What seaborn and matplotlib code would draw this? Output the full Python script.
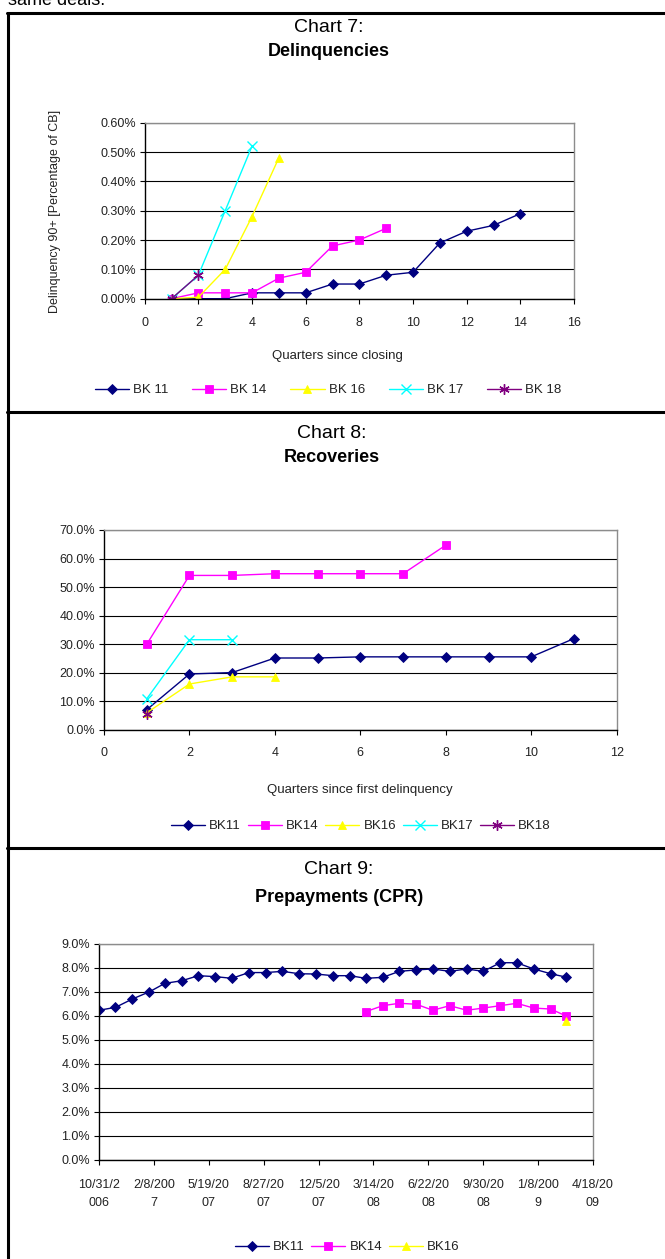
"""Charts 7-9: delinquencies, recoveries and prepayments by deal."""

import matplotlib.pyplot as plt
import matplotlib.ticker as mticker
import pandas as pd
import seaborn as sns
from matplotlib.lines import Line2D

W, H = 665, 1259

# ---- Chart 7: delinquencies (percent of CB) ----
DLQ_BK11 = [0.0, 0.0, 0.0, 0.02, 0.02, 0.02, 0.05, 0.05, 0.08, 0.09, 0.19, 0.23, 0.25, 0.29]
DLQ_BK14 = [0.0, 0.02, 0.02, 0.02, 0.07, 0.09, 0.18, 0.20, 0.24]
DLQ_BK16 = [0.0, 0.005, 0.10, 0.28, 0.48]
DLQ_BK17 = [0.0, 0.08, 0.30, 0.52]
DLQ_BK18 = [0.0, 0.08]

# ---- Chart 8: recoveries (percent) ----
REC_BK11 = [7.1, 19.6, 20.1, 25.2, 25.2, 25.6, 25.6, 25.6, 25.6, 25.6, 32.0]
REC_BK14 = [30.0, 54.1, 54.1, 54.7, 54.7, 54.7, 54.7, 64.7]
REC_BK16 = [6.0, 16.1, 18.6, 18.6]
REC_BK17 = [10.9, 31.6, 31.6]
REC_BK18 = [5.7]

# ---- Chart 9: prepayments CPR (percent), month ends ----
CPR_DATES = [
    "2006-10-31", "2006-11-30", "2006-12-31", "2007-01-31", "2007-02-28",
    "2007-03-31", "2007-04-30", "2007-05-31", "2007-06-30", "2007-07-31",
    "2007-08-31", "2007-09-30", "2007-10-31", "2007-11-30", "2007-12-31",
    "2008-01-31", "2008-02-29", "2008-03-31", "2008-04-30", "2008-05-31",
    "2008-06-30", "2008-07-31", "2008-08-31", "2008-09-30", "2008-10-31",
    "2008-11-30", "2008-12-31", "2009-01-31", "2009-02-28",
]
CPR_BK11 = [6.24, 6.36, 6.71, 7.01, 7.36, 7.47, 7.68, 7.64, 7.57, 7.81,
            7.81, 7.86, 7.76, 7.75, 7.68, 7.68, 7.57, 7.61, 7.86, 7.92,
            7.96, 7.86, 7.96, 7.86, 8.22, 8.22, 7.96, 7.76, 7.62]
CPR_BK14 = [6.18, 6.43, 6.53, 6.49, 6.24, 6.43, 6.24, 6.33, 6.43, 6.53,
            6.33, 6.29, 6.0]
CPR_BK16 = [5.78]
CPR_TICK_DATES = ["2006-10-31", "2007-02-08", "2007-05-19", "2007-08-27",
                  "2007-12-05", "2008-03-14", "2008-06-22", "2008-09-30",
                  "2009-01-08", "2009-04-18"]
CPR_TICK_LABELS = ["10/31/2\n006", "2/8/200\n7", "5/19/20\n07", "8/27/20\n07",
                   "12/5/20\n07", "3/14/20\n08", "6/22/20\n08", "9/30/20\n08",
                   "1/8/200\n9", "4/18/20\n09"]

STYLES = {
    "BK11": dict(color="#000080", marker="D", markersize=5.2, mew=0.6),
    "BK14": dict(color="#FF00FF", marker="s", markersize=5.2, mew=0.6),
    "BK16": dict(color="#FFFF00", marker="^", markersize=6, mew=0.6),
    "BK17": dict(color="#00FFFF", marker="x", markersize=6.5, mew=1.0),
    "BK18": dict(color="#800080", marker=(6, 2, 0), markersize=7.5, mew=1.0),
}

sns.set_theme(style="white")
plt.rcParams["font.family"] = ["Liberation Sans Narrow", "Liberation Sans", "DejaVu Sans"]
TEXT = "#222222"


def fx(px):
    return px / W


def fy(py):
    return 1 - py / H


def add_axes(fig, left, top, right, bottom):
    return fig.add_axes([fx(left), fy(bottom), fx(right - left), (bottom - top) / H])


def style_axes(ax, xpad):
    ax.set_facecolor("white")
    for side in ("left", "bottom"):
        ax.spines[side].set_color("black")
        ax.spines[side].set_linewidth(1.0)
    for side in ("top", "right"):
        ax.spines[side].set_color("#8c8c8c")
        ax.spines[side].set_linewidth(1.0)
    ax.yaxis.grid(True, color="black", linewidth=0.8)
    ax.xaxis.grid(False)
    ax.set_axisbelow(True)
    ax.tick_params(axis="both", direction="out", length=3.5, width=0.8, color="black",
                   labelsize=9, labelcolor=TEXT, pad=3, bottom=True, left=True)
    ax.tick_params(axis="x", pad=xpad)
    ax.set_xlabel("")
    ax.set_ylabel("")


def draw_series(ax, x, y, name, label):
    st = STYLES[name]
    sns.lineplot(x=x, y=y, ax=ax, color=st["color"], marker=st["marker"],
                 markersize=st["markersize"], markeredgewidth=st["mew"],
                 markeredgecolor=st["color"], markerfacecolor=st["color"],
                 linewidth=1.0, label=label, legend=False)


def add_legend(fig, names, labels, cx, cy, colspacing):
    handles = []
    for name in names:
        st = STYLES[name]
        handles.append(Line2D([], [], color=st["color"], marker=st["marker"],
                              markersize=st["markersize"], markeredgewidth=st["mew"],
                              markeredgecolor=st["color"], markerfacecolor=st["color"],
                              linewidth=1.0))
    fig.legend(handles, labels, loc="center", bbox_to_anchor=(fx(cx), fy(cy)),
               ncol=len(names), frameon=False, fontsize=9.5, handlelength=2.6,
               handletextpad=0.3, columnspacing=colspacing, labelcolor=TEXT)


def add_title(fig, number, name, cx, y1, y2):
    fig.text(fx(cx), fy(y1), number, ha="center", va="center", fontsize=14,
             color="black", family=["Liberation Sans", "DejaVu Sans"])
    fig.text(fx(cx), fy(y2), name, ha="center", va="center", fontsize=13,
             fontweight="bold", color="black")


fig = plt.figure(figsize=(W / 100, H / 100), dpi=100)
fig.patch.set_facecolor("white")

# cropped text from the page above the box
fig.text(fx(8), fy(5), "same deals.", ha="left", va="baseline", fontsize=13,
         color="black", family=["Liberation Sans", "DejaVu Sans"])

# panel box lines
for y in (13, 412, 848):
    fig.add_artist(Line2D([fx(7), 1.0], [fy(y), fy(y)], color="black", linewidth=2.2,
                          transform=fig.transFigure))
fig.add_artist(Line2D([fx(8), fx(8)], [fy(13), 0.0], color="black", linewidth=2.2,
                      transform=fig.transFigure))

# ---- Chart 7 ----
add_title(fig, "Chart 7:", "Delinquencies", 329, 28, 51)
ax7 = add_axes(fig, 144.7, 122.7, 574, 298.7)
for name, vals in [("BK11", DLQ_BK11), ("BK14", DLQ_BK14), ("BK16", DLQ_BK16),
                   ("BK17", DLQ_BK17), ("BK18", DLQ_BK18)]:
    draw_series(ax7, list(range(1, len(vals) + 1)), vals, name, name)
style_axes(ax7, 10)
ax7.set_xlim(0, 16)
ax7.set_ylim(0, 0.6)
ax7.xaxis.set_major_locator(mticker.MultipleLocator(2))
ax7.yaxis.set_major_locator(mticker.MultipleLocator(0.1))
ax7.yaxis.set_major_formatter(mticker.FuncFormatter(lambda v, _: f"{v:.2f}%"))
fig.text(fx(55), fy(211), "Delinquency 90+ [Percentage of CB]", rotation=90,
         ha="center", va="center", fontsize=9, color=TEXT)
fig.text(fx(337), fy(356), "Quarters since closing", ha="center", va="center",
         fontsize=9.5, color=TEXT)
add_legend(fig, ["BK11", "BK14", "BK16", "BK17", "BK18"],
           ["BK 11", "BK 14", "BK 16", "BK 17", "BK 18"], 328, 390, 1.8)

# ---- Chart 8 ----
add_title(fig, "Chart 8:", "Recoveries", 332, 433, 458)
ax8 = add_axes(fig, 104, 530, 616.7, 730)
for name, vals in [("BK11", REC_BK11), ("BK14", REC_BK14), ("BK16", REC_BK16),
                   ("BK17", REC_BK17), ("BK18", REC_BK18)]:
    draw_series(ax8, list(range(1, len(vals) + 1)), vals, name, name)
style_axes(ax8, 9)
ax8.set_xlim(0, 12)
ax8.set_ylim(0, 70)
ax8.xaxis.set_major_locator(mticker.MultipleLocator(2))
ax8.yaxis.set_major_locator(mticker.MultipleLocator(10))
ax8.yaxis.set_major_formatter(mticker.FuncFormatter(lambda v, _: f"{v:.1f}%"))
fig.text(fx(360), fy(790), "Quarters since first delinquency", ha="center", va="center",
         fontsize=9.5, color=TEXT)
add_legend(fig, ["BK11", "BK14", "BK16", "BK17", "BK18"],
           ["BK11", "BK14", "BK16", "BK17", "BK18"], 361, 826, 0.5)

# ---- Chart 9 ----
add_title(fig, "Chart 9:", "Prepayments (CPR)", 339, 870, 897)
ax9 = add_axes(fig, 99, 944, 593, 1160)
dates = pd.to_datetime(CPR_DATES)
draw_series(ax9, dates, CPR_BK11, "BK11", "BK11")
draw_series(ax9, dates[-len(CPR_BK14):], CPR_BK14, "BK14", "BK14")
draw_series(ax9, dates[-len(CPR_BK16):], CPR_BK16, "BK16", "BK16")
style_axes(ax9, 10)
tick_dates = pd.to_datetime(CPR_TICK_DATES)
ax9.set_xlim(tick_dates[0], tick_dates[-1])
ax9.set_xticks(tick_dates)
ax9.set_xticklabels(CPR_TICK_LABELS, linespacing=1.7)
ax9.set_ylim(0, 9)
ax9.yaxis.set_major_locator(mticker.MultipleLocator(1))
ax9.yaxis.set_major_formatter(mticker.FuncFormatter(lambda v, _: f"{v:.1f}%"))
add_legend(fig, ["BK11", "BK14", "BK16"], ["BK11", "BK14", "BK16"], 347, 1247, 0.5)

fig.savefig("out.png", dpi=100, facecolor="white")
